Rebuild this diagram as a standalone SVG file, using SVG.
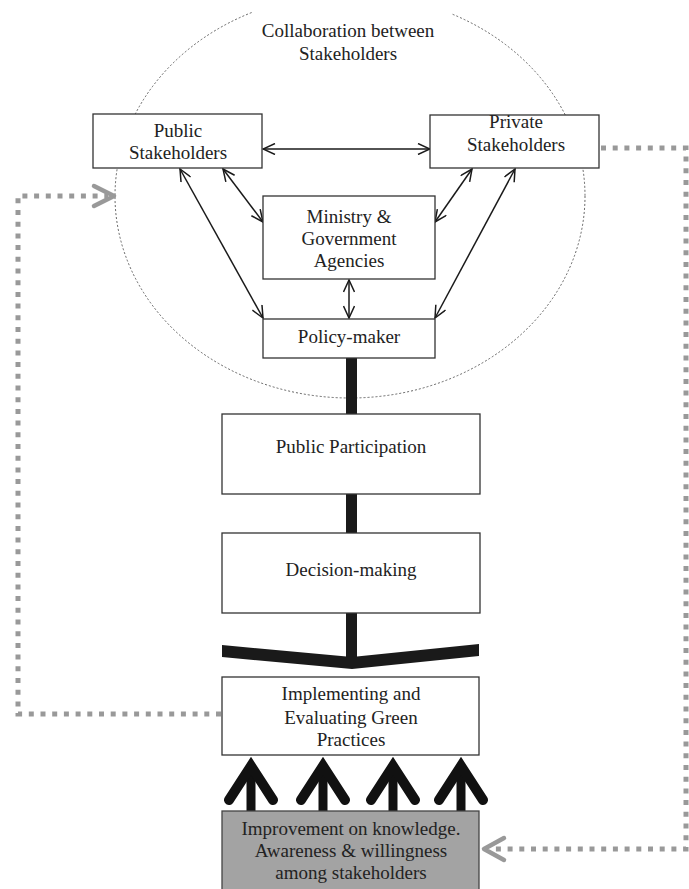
<svg xmlns="http://www.w3.org/2000/svg" width="689" height="889" viewBox="0 0 689 889">
<defs>
<style>
.box{fill:#fff;stroke:#333;stroke-width:1.3}
.t{font-family:"Liberation Serif","Times New Roman",serif;font-size:19px;fill:#222;text-anchor:middle}
.thin{stroke:#1a1a1a;stroke-width:1.5;fill:none;marker-start:url(#ah);marker-end:url(#ah)}
.fb{stroke:#999;stroke-width:5;fill:none;stroke-dasharray:5 6.7}
.fbh{stroke:#999;stroke-width:4.5;fill:none;stroke-linecap:round;stroke-linejoin:round}
.up{stroke:#111;fill:none}
</style>
<marker id="ah" viewBox="0 0 14 12" refX="13" refY="6" markerWidth="14" markerHeight="12" markerUnits="userSpaceOnUse" orient="auto-start-reverse">
<path d="M1,0.5 L13,6 L1,11.5" fill="none" stroke="#1a1a1a" stroke-width="1.5"/>
</marker>
</defs>
<rect width="689" height="889" fill="#fff"/>

<g id="collaboration">
<ellipse cx="350" cy="196" rx="235" ry="202" fill="none" stroke="#555" stroke-width="0.9" stroke-dasharray="2 2"/>
<rect x="252" y="0" width="200" height="28" fill="#fff"/>
<text class="t" x="348" y="37">Collaboration between</text>
<text class="t" x="348" y="60">Stakeholders</text>
</g>

<g id="connectors">
<line class="thin" x1="263" y1="149" x2="430" y2="149"/>
<line class="thin" x1="223" y1="169" x2="263" y2="222"/>
<line class="thin" x1="180" y1="169" x2="263" y2="318"/>
<line class="thin" x1="472" y1="169" x2="435" y2="222"/>
<line class="thin" x1="515" y1="169" x2="435" y2="318"/>
<line class="thin" x1="349" y1="280" x2="349" y2="318"/>
<rect x="346" y="358" width="11" height="56" fill="#1a1a1a"/>
<rect x="346" y="494" width="11" height="39" fill="#1a1a1a"/>
<rect x="346" y="613" width="11" height="46" fill="#1a1a1a"/>
<polygon points="222,645 352,657 479,644 479,656 352,669 222,657" fill="#1a1a1a"/>
<g class="up">
<line x1="251" y1="766" x2="251" y2="811" stroke-width="9"/>
<path d="M229,800 L251,766 L273,800" stroke-width="10" stroke-linecap="round" stroke-linejoin="miter"/>
<line x1="323" y1="766" x2="323" y2="811" stroke-width="9"/>
<path d="M301,800 L323,766 L345,800" stroke-width="10" stroke-linecap="round" stroke-linejoin="miter"/>
<line x1="393" y1="766" x2="393" y2="811" stroke-width="9"/>
<path d="M371,800 L393,766 L415,800" stroke-width="10" stroke-linecap="round" stroke-linejoin="miter"/>
<line x1="461" y1="766" x2="461" y2="811" stroke-width="9"/>
<path d="M439,800 L461,766 L483,800" stroke-width="10" stroke-linecap="round" stroke-linejoin="miter"/>
</g>
<polyline class="fb" points="221,714 18,714 18,196 108,196"/>
<path class="fbh" d="M94,186 L114,196 L94,206"/>
<polyline class="fb" points="601,148 686,148 686,849 490,849"/>
<path class="fbh" d="M504,838 L484,849 L504,860"/>
</g>

<g id="public-stakeholders">
<rect class="box" x="93" y="114" width="169" height="54"/>
<text class="t" x="178" y="137">Public</text>
<text class="t" x="178" y="159">Stakeholders</text>
</g>
<g id="private-stakeholders">
<rect class="box" x="430" y="115" width="169" height="53"/>
<text class="t" x="516" y="128">Private</text>
<text class="t" x="516" y="151">Stakeholders</text>
</g>
<g id="ministry">
<rect class="box" x="263" y="196" width="172" height="83"/>
<text class="t" x="349" y="223">Ministry &amp;</text>
<text class="t" x="349" y="245">Government</text>
<text class="t" x="349" y="267">Agencies</text>
</g>
<g id="policy-maker">
<rect class="box" x="263" y="319" width="172" height="39"/>
<text class="t" x="349" y="343">Policy-maker</text>
</g>
<g id="public-participation">
<rect class="box" x="222" y="414" width="258" height="80"/>
<text class="t" x="351" y="453">Public Participation</text>
</g>
<g id="decision-making">
<rect class="box" x="222" y="533" width="258" height="80"/>
<text class="t" x="351" y="576">Decision-making</text>
</g>
<g id="implementing">
<rect class="box" x="222" y="677" width="257" height="78"/>
<text class="t" x="351" y="700">Implementing and</text>
<text class="t" x="351" y="724">Evaluating Green</text>
<text class="t" x="351" y="746">Practices</text>
</g>
<g id="improvement">
<rect x="222" y="811" width="257" height="82" fill="#a3a3a3" stroke="#444" stroke-width="1.3"/>
<text class="t" x="351" y="835">Improvement on knowledge.</text>
<text class="t" x="351" y="857">Awareness &amp; willingness</text>
<text class="t" x="351" y="879">among stakeholders</text>
</g>
</svg>
